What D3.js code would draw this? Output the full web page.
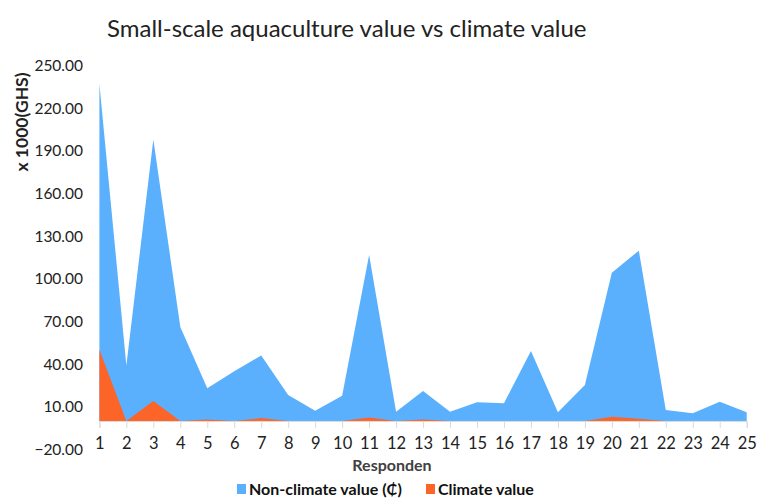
<!DOCTYPE html>
<html><head><meta charset="utf-8">
<script src="https://cdn.jsdelivr.net/npm/d3@7"></script>
<style>body{margin:0;background:#fff}svg{display:block}</style>
</head><body>
<svg id="c" width="760" height="504"></svg>
<script>
const respondents = d3.range(1, 26);
const nonClimate = [237, 39, 198, 66, 23, 35, 46, 18.3, 7.2, 17.8, 116.7, 6.5, 21.1, 6.5, 13.1, 12.4, 49.2, 6.1, 25.3, 104.3, 119.8, 7.7, 5.4, 13.6, 6.1];
const climate = [50, 0, 14, 0, 1, 0, 2, 0, 0, 0, 2.5, 0, 1, 0, 0, 0, 0, 0, 0, 3, 1.5, 0, 0, 0, 0];
const yTicks = [-20, 10, 40, 70, 100, 130, 160, 190, 220, 250];
const seriesNames = ["Non-climate value (\u20B5)", "Climate value"];
const colors = ["#5ab0fd", "#fd6428"];

const svg = d3.select("#c");
const font = "Lato, 'Open Sans', sans-serif";
const x = d3.scaleLinear().domain([1, 25]).range([99.4, 746.7]);
const y = d3.scaleLinear().domain([-20, 250]).range([449.4, 65.5]);

svg.append("text").attr("x", 107).attr("y", 37).attr("font-family", font)
  .attr("font-size", 24).attr("fill", "#222").text("Small-scale aquaculture value vs climate value");

const area = d3.area().x((d, i) => x(respondents[i])).y0(y(0)).y1(d => y(d));
svg.append("path").datum(nonClimate).attr("d", area).attr("fill", colors[0]);
svg.append("path").datum(climate).attr("d", area).attr("fill", colors[1]);

// x axis at zero
const xAxis = d3.axisBottom(x).tickValues(respondents).tickFormat(d3.format("d")).tickSize(7).tickPadding(9);
const gx = svg.append("g").attr("transform", `translate(0,${y(0)})`).call(xAxis);
gx.select(".domain").attr("stroke", "#d9d9d9");
gx.selectAll(".tick line").attr("stroke", "#d9d9d9");
gx.selectAll("text").attr("font-family", font).attr("font-size", 16.5).attr("fill", "#222");

// y axis labels
const yAxis = d3.axisLeft(y).tickValues(yTicks).tickFormat(d3.format(".2f")).tickSize(0).tickPadding(0);
const gy = svg.append("g").attr("transform", "translate(83,0)").call(yAxis);
gy.select(".domain").remove();
gy.selectAll("text").attr("font-family", font).attr("font-size", 15.5).attr("fill", "#222");

svg.append("text").attr("transform", "translate(28,122) rotate(-90)").attr("text-anchor", "middle")
  .attr("font-family", font).attr("font-weight", "bold").attr("font-size", 17.5).attr("fill", "#222").text("x 1000(GHS)");

svg.append("text").attr("x", 392).attr("y", 471).attr("text-anchor", "middle")
  .attr("font-family", font).attr("font-weight", "bold").attr("font-size", 16).attr("fill", "#404040").text("Responden");

// legend
const legX = [237, 426];
seriesNames.forEach((n, i) => {
  svg.append("rect").attr("x", legX[i]).attr("y", 484).attr("width", 9).attr("height", 10).attr("fill", colors[i]);
  svg.append("text").attr("x", legX[i] + 12).attr("y", 495).attr("font-family", font).attr("font-weight", "bold")
    .attr("font-size", 16).attr("fill", "#111").text(n);
});
</script>
</body></html>
